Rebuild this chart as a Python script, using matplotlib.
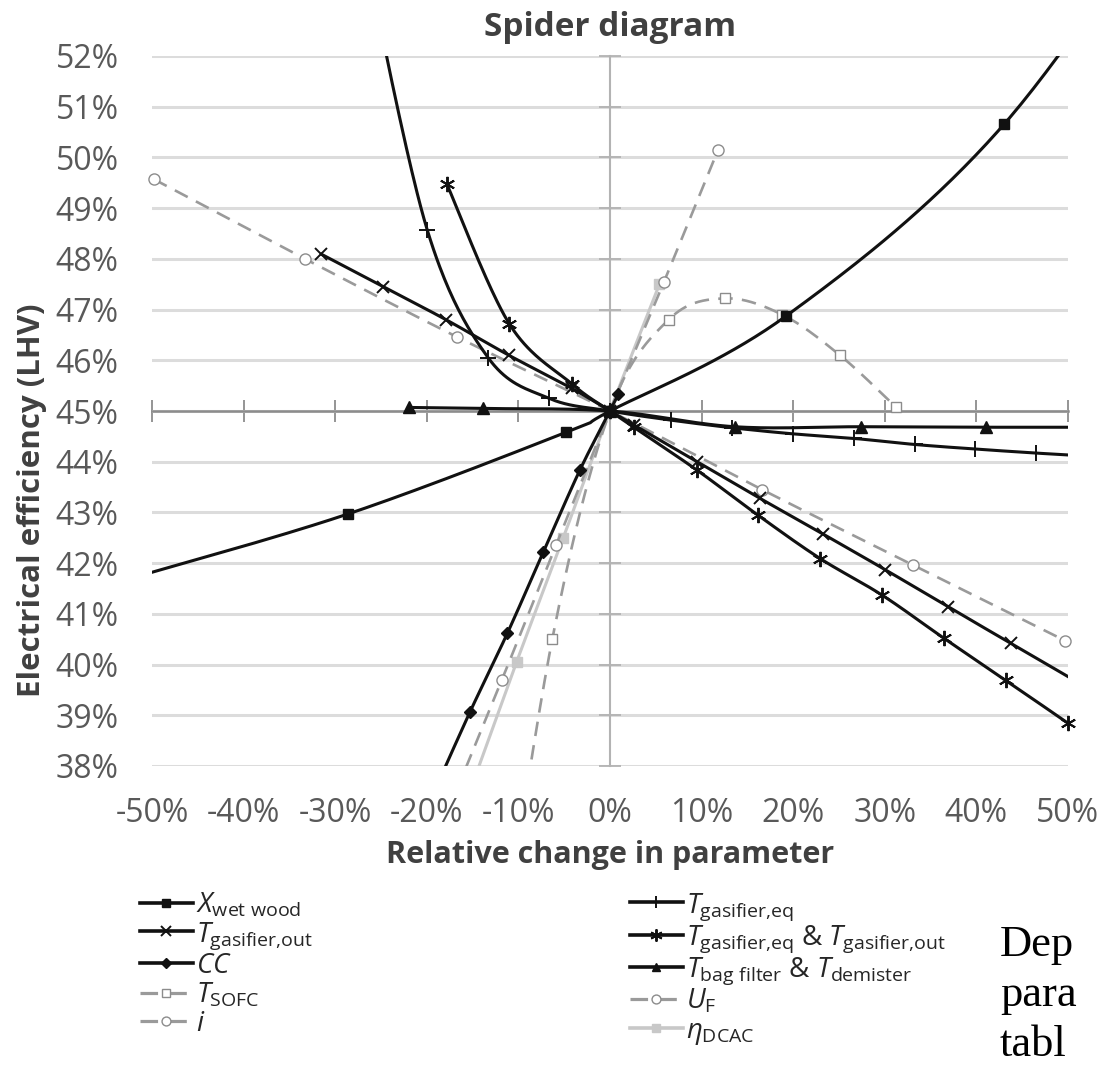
import numpy as np
import matplotlib
matplotlib.use("Agg")
import matplotlib.pyplot as plt
from matplotlib.lines import Line2D
from matplotlib.ticker import FixedLocator, FuncFormatter

plt.rcParams['font.family'] = ['Open Sans', 'DejaVu Sans']
plt.rcParams['mathtext.fontset'] = 'custom'
plt.rcParams['mathtext.rm'] = 'Open Sans'
plt.rcParams['mathtext.it'] = 'Open Sans:italic'
plt.rcParams['mathtext.bf'] = 'Open Sans:bold'

# relative change in parameter (%) -> electrical efficiency LHV (%)
xwet_x = [-52.3, -28.6, -4.8, 0.0, 19.2, 43.0, 66.8]
xwet_y = [41.70, 42.97, 44.58, 45.0, 46.87, 50.65, 56.7]

teq_x = [-26.6, -19.95, -13.3, -6.65, 0.0, 6.65, 13.3, 19.95, 26.6, 33.25, 39.9, 46.55, 53.2]
teq_y = [53.9, 48.57, 46.05, 45.25, 45.0, 44.82, 44.67, 44.55, 44.46, 44.34, 44.25, 44.17, 44.10]

tout_x = [-31.6, -24.75, -17.9, -11.05, -4.2, 0.0, 2.65, 9.5, 16.35, 23.2, 30.05, 36.9, 43.75, 50.6]
tout_y = [48.10, 47.45, 46.80, 46.10, 45.45, 45.0, 44.72, 44.00, 43.28, 42.58, 41.87, 41.14, 40.42, 39.70]

tboth_x = [-17.8, -11.0, -4.2, 0.0, 2.6, 9.45, 16.2, 22.95, 29.7, 36.45, 43.2, 49.95]
tboth_y = [49.47, 46.72, 45.54, 45.0, 44.68, 43.84, 42.94, 42.09, 41.37, 40.52, 39.69, 38.85]

cc_x = [-19.3, -15.3, -11.2, -7.3, -3.3, 0.0, 0.9]
cc_y = [37.45, 39.06, 40.62, 42.21, 43.83, 45.0, 45.33]

tbag_x = [-21.9, -13.9, 0.0, 13.6, 27.4, 41.0, 54.8]
tbag_y = [45.07, 45.05, 45.0, 44.69, 44.69, 44.68, 44.68]

tsofc_x = [-12.5, -6.3, 0.0, 6.4, 12.5, 18.8, 25.1, 31.2]
tsofc_y = [33.5, 40.5, 45.0, 46.8, 47.22, 46.9, 46.1, 45.08]

uf_x = [-17.7, -11.8, -5.9, 0.0, 5.9, 11.8]
uf_y = [37.1, 39.7, 42.35, 45.0, 47.55, 50.15]

i_x = [-49.8, -33.3, -16.7, 0.0, 16.6, 33.1, 49.7]
i_y = [49.57, 48.0, 46.46, 45.0, 43.45, 41.96, 40.47]

eta_x = [-15.2, -10.2, -5.1, 0.0, 5.4]
eta_y = [37.55, 40.05, 42.5, 45.0, 47.5]

x_ticks = list(range(-50, 51, 10))
y_ticks = list(range(38, 53))

BLACK = '#111111'
GREY = '#9a9a9a'
LIGHT = '#c8c8c8'
DASH = (0, (5.5, 3.5))


def smooth(xs, ys, n=40):
    # Excel-style smoothed line: cubic Bezier per segment, tangents from neighbours
    p = np.column_stack([xs, ys]).astype(float)
    t = np.linspace(0, 1, n)[1:, None]
    out = [p[:1]]
    for k in range(len(p) - 1):
        p0 = p[max(k - 1, 0)]
        p1 = p[k]
        p2 = p[k + 1]
        p3 = p[min(k + 2, len(p) - 1)]
        c1 = p1 + (p2 - p0) / 6
        c2 = p2 - (p3 - p1) / 6
        out.append((1 - t)**3 * p1 + 3 * (1 - t)**2 * t * c1 + 3 * (1 - t) * t**2 * c2 + t**3 * p2)
    q = np.vstack(out)
    return q[:, 0], q[:, 1]


series = {
    'xwet': (r'$X_{\mathrm{wet\ wood}}$', xwet_x, xwet_y,
             dict(color=BLACK, lw=2.2, ls='-', marker='s', ms=7, mfc=BLACK, mec=BLACK, mew=1)),
    'tout': (r'$T_{\mathrm{gasifier{,}out}}$', tout_x, tout_y,
             dict(color=BLACK, lw=2.2, ls='-', marker='x', ms=9, mfc=BLACK, mec=BLACK, mew=1.4)),
    'cc': (r'$\mathit{CC}$', cc_x, cc_y,
           dict(color=BLACK, lw=2.2, ls='-', marker='D', ms=6.5, mfc=BLACK, mec=BLACK, mew=1)),
    'tsofc': (r'$T_{\mathrm{SOFC}}$', tsofc_x, tsofc_y,
              dict(color=GREY, lw=1.9, ls=DASH, marker='s', ms=7, mfc='white', mec='#8c8c8c', mew=1)),
    'i': (r'$i$', i_x, i_y,
          dict(color=GREY, lw=1.9, ls=DASH, marker='o', ms=8, mfc='white', mec='#8c8c8c', mew=1)),
    'teq': (r'$T_{\mathrm{gasifier{,}eq}}$', teq_x, teq_y,
            dict(color=BLACK, lw=2.2, ls='-', marker='+', ms=11, mfc=BLACK, mec=BLACK, mew=1.4)),
    'tboth': (r'$T_{\mathrm{gasifier{,}eq}}$ & $T_{\mathrm{gasifier{,}out}}$', tboth_x, tboth_y,
              dict(color=BLACK, lw=2.2, ls='-', marker=(6, 2, 0), ms=11, mfc=BLACK, mec=BLACK, mew=1.4)),
    'tbag': (r'$T_{\mathrm{bag\ filter}}$ & $T_{\mathrm{demister}}$', tbag_x, tbag_y,
             dict(color=BLACK, lw=2.2, ls='-', marker='^', ms=8, mfc=BLACK, mec=BLACK, mew=1)),
    'uf': (r'$U_{\mathrm{F}}$', uf_x, uf_y,
           dict(color=GREY, lw=1.9, ls=DASH, marker='o', ms=8, mfc='white', mec='#8c8c8c', mew=1)),
    'eta': (r'$\eta_{\mathrm{DCAC}}$', eta_x, eta_y,
            dict(color=LIGHT, lw=2.2, ls='-', marker='s', ms=7, mfc=LIGHT, mec=LIGHT, mew=1)),
}

fig = plt.figure(figsize=(11.02, 10.78), dpi=100)
ax = fig.add_axes([152 / 1102, 1 - 766 / 1078, 916 / 1102, 710 / 1078])
ax.set_xlim(-50, 50)
ax.set_ylim(38, 52)

handles = {}
draw_order = ['eta', 'uf', 'i', 'tsofc', 'tbag', 'teq', 'tout', 'tboth', 'cc', 'xwet']
for z, key in enumerate(draw_order):
    label, xs, ys, st = series[key]
    xs = np.asarray(xs)
    ys = np.asarray(ys)
    sx, sy = smooth(xs, ys)
    ax.plot(sx, sy, color=st['color'], lw=st['lw'], ls=st['ls'],
            solid_capstyle='butt', zorder=3 + z)
    inside = (xs >= -50) & (xs <= 50) & (ys >= 38) & (ys <= 52)
    ax.plot(xs[inside], ys[inside], ls='none', marker=st['marker'], ms=st['ms'],
            mfc=st['mfc'], mec=st['mec'], mew=st['mew'], clip_on=False, zorder=3.5 + z)
    handles[key] = Line2D([], [], color=st['color'], lw=st['lw'] + 0.4, ls=st['ls'],
                          marker=st['marker'], ms=st['ms'] * 0.8, mfc=st['mfc'],
                          mec=st['mec'], mew=st['mew'])

# axes cross at (0 %, 45 %), ticks cross the axis lines
for side in ['top', 'right']:
    ax.spines[side].set_visible(False)
ax.spines['bottom'].set_position(('data', 45))
ax.spines['left'].set_position(('data', 0))
ax.spines['bottom'].set_color('#8c8c8c')
ax.spines['bottom'].set_linewidth(1.8)
ax.spines['left'].set_color('#b3b3b3')
ax.spines['left'].set_linewidth(1.5)
ax.xaxis.set_major_locator(FixedLocator(x_ticks))
ax.yaxis.set_major_locator(FixedLocator(y_ticks))
ax.tick_params(axis='x', direction='inout', length=16, width=1.3, color='#8c8c8c',
               labelbottom=False)
ax.tick_params(axis='y', direction='inout', length=16, width=1.3, color='#b3b3b3',
               labelleft=False)
ax.yaxis.grid(True, color='#dcdcdc', lw=2.2)
ax.set_axisbelow(True)

pct = FuncFormatter(lambda v, p: f"{v:.0f}%")

# tick labels sit at the low edge of the plot area
secx = ax.secondary_xaxis(0.0)
secx.xaxis.set_major_locator(FixedLocator(x_ticks))
secx.xaxis.set_major_formatter(pct)
secx.tick_params(length=0, pad=22, labelsize=23, labelcolor='#595959')
secy = ax.secondary_yaxis(0.0)
secy.yaxis.set_major_locator(FixedLocator(y_ticks))
secy.yaxis.set_major_formatter(pct)
secy.tick_params(length=0, pad=24, labelsize=23, labelcolor='#595959')
for s in list(secx.spines.values()) + list(secy.spines.values()):
    s.set_visible(False)

fig.text(610 / 1102, 1 - 27 / 1078, 'Spider diagram', ha='center', va='center',
         fontsize=24, fontweight='bold', color='#404040')
fig.text(610 / 1102, 1 - 855 / 1078, 'Relative change in parameter', ha='center', va='center',
         fontsize=22, fontweight='bold', color='#404040')
fig.text(32 / 1102, 1 - 500 / 1078, 'Electrical efficiency (LHV)', ha='center', va='center',
         rotation=90, fontsize=22.5, fontweight='bold', color='#404040')

left_keys = ['xwet', 'tout', 'cc', 'tsofc', 'i']
right_keys = ['teq', 'tboth', 'tbag', 'uf', 'eta']
for keys, x0 in [(left_keys, 140 / 1102), (right_keys, 630 / 1102)]:
    leg = fig.legend([handles[k] for k in keys], [series[k][0] for k in keys],
                     loc='upper left', bbox_to_anchor=(x0, 1 - 891 / 1078),
                     frameon=False, fontsize=20, handlelength=1.9, handletextpad=0.1,
                     labelspacing=0.02, borderpad=0, borderaxespad=0)
    for txt in leg.get_texts():
        txt.set_color('#262626')

for word, base in [('Dep', 956), ('para', 1006), ('tabl', 1056)]:
    fig.text(1000 / 1102, 1 - base / 1078, word, ha='left', va='baseline',
             family='Liberation Serif', fontsize=32, color='black')

fig.savefig('out.png', dpi=100)
